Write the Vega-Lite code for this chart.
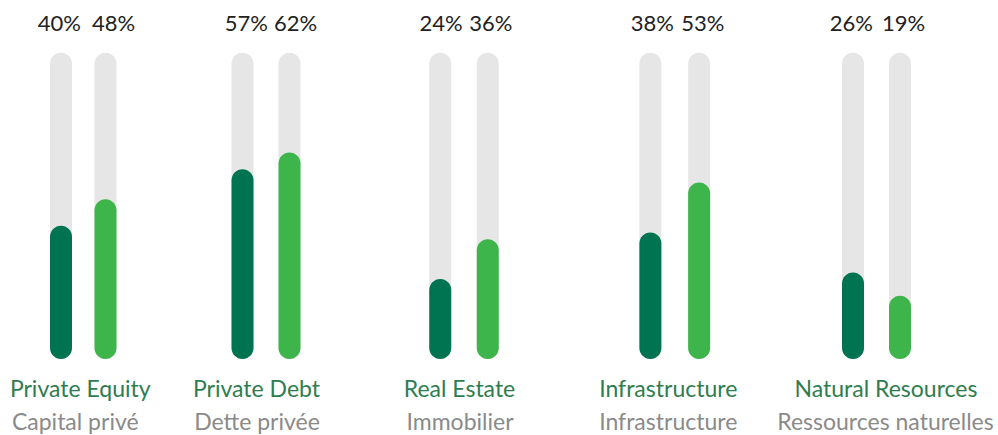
{
  "$schema": "https://vega.github.io/schema/vega-lite/v6.json",
  "padding": {"left": 4, "right": 0, "top": 0, "bottom": 0},
  "background": "white",
  "bounds": "flush",
  "spacing": 0,
  "config": {"view": {"stroke": null}, "font": "Lato", "concat": {"spacing": 0}},
  "datasets": {
    "bars": [
      {"category": "Private Equity", "series": "Series 1", "value": 0.40},
      {"category": "Private Equity", "series": "Series 2", "value": 0.48},
      {"category": "Private Debt", "series": "Series 1", "value": 0.57},
      {"category": "Private Debt", "series": "Series 2", "value": 0.62},
      {"category": "Real Estate", "series": "Series 1", "value": 0.24},
      {"category": "Real Estate", "series": "Series 2", "value": 0.36},
      {"category": "Infrastructure", "series": "Series 1", "value": 0.38},
      {"category": "Infrastructure", "series": "Series 2", "value": 0.53},
      {"category": "Natural Resources", "series": "Series 1", "value": 0.26},
      {"category": "Natural Resources", "series": "Series 2", "value": 0.19}
    ],
    "groups": [
      {"category": "Private Equity", "fr": "Capital privé"},
      {"category": "Private Debt", "fr": "Dette privée"},
      {"category": "Real Estate", "fr": "Immobilier"},
      {"category": "Infrastructure", "fr": "Infrastructure"},
      {"category": "Natural Resources", "fr": "Ressources naturelles"}
    ]
  },
  "hconcat": [
    {
      "width": 152,
      "height": 435,
      "encoding": {
        "x": {"field": "series", "type": "nominal", "axis": null, "scale": {"domain": ["Series 1", "Series 2"], "range": [34.75, 123.75], "paddingInner": 0, "paddingOuter": 0}}
      },
      "layer": [
        {
          "data": {"name": "bars"},
          "transform": [{"filter": "datum.category === 'Private Equity'"}],
          "mark": {"type": "bar", "width": 22, "cornerRadius": 11, "color": "#E6E6E6"},
          "encoding": {
            "y": {"datum": 0.92, "type": "quantitative", "axis": null, "scale": {"domain": [-0.228, 1.078], "nice": false, "zero": false}},
            "y2": {"datum": 0}
          }
        },
        {
          "data": {"name": "bars"},
          "transform": [{"filter": "datum.category === 'Private Equity'"}],
          "mark": {"type": "bar", "width": 22, "cornerRadius": 11},
          "encoding": {
            "y": {"field": "value", "type": "quantitative"},
            "y2": {"datum": 0},
            "color": {"field": "series", "type": "nominal", "legend": null, "scale": {"domain": ["Series 1", "Series 2"], "range": ["#007350", "#3EB54B"]}}
          }
        },
        {
          "data": {"name": "bars"},
          "transform": [{"filter": "datum.category === 'Private Equity' && datum.series === 'Series 1'"}],
          "mark": {"type": "text", "align": "right", "baseline": "alphabetic", "dx": 20, "fontSize": 22, "color": "#222222"},
          "encoding": {"y": {"datum": 0.985, "type": "quantitative"}, "text": {"field": "value", "type": "quantitative", "format": ".0%"}}
        },
        {
          "data": {"name": "bars"},
          "transform": [{"filter": "datum.category === 'Private Equity' && datum.series === 'Series 2'"}],
          "mark": {"type": "text", "align": "left", "baseline": "alphabetic", "dx": -13.5, "fontSize": 22, "color": "#222222"},
          "encoding": {"y": {"datum": 0.985, "type": "quantitative"}, "text": {"field": "value", "type": "quantitative", "format": ".0%"}}
        },
        {
          "data": {"name": "groups"},
          "transform": [{"filter": "datum.category === 'Private Equity'"}],
          "mark": {"type": "text", "align": "center", "baseline": "alphabetic", "dx": -3, "fontSize": 23, "color": "#2E7D4F"},
          "encoding": {"x": {"datum": "Series 2", "bandPosition": 0}, "y": {"datum": -0.114, "type": "quantitative"}, "text": {"field": "category"}}
        },
        {
          "data": {"name": "groups"},
          "transform": [{"filter": "datum.category === 'Private Equity'"}],
          "mark": {"type": "text", "align": "center", "baseline": "alphabetic", "dx": -8, "fontSize": 23, "color": "#8A8A8A"},
          "encoding": {"x": {"datum": "Series 2", "bandPosition": 0}, "y": {"datum": -0.213, "type": "quantitative"}, "text": {"field": "fr"}}
        }
      ]
    },
    {
      "width": 200,
      "height": 435,
      "encoding": {
        "x": {"field": "series", "type": "nominal", "axis": null, "scale": {"domain": ["Series 1", "Series 2"], "range": [63, 157], "paddingInner": 0, "paddingOuter": 0}}
      },
      "layer": [
        {
          "data": {"name": "bars"},
          "transform": [{"filter": "datum.category === 'Private Debt'"}],
          "mark": {"type": "bar", "width": 22, "cornerRadius": 11, "color": "#E6E6E6"},
          "encoding": {
            "y": {"datum": 0.92, "type": "quantitative", "axis": null, "scale": {"domain": [-0.228, 1.078], "nice": false, "zero": false}},
            "y2": {"datum": 0}
          }
        },
        {
          "data": {"name": "bars"},
          "transform": [{"filter": "datum.category === 'Private Debt'"}],
          "mark": {"type": "bar", "width": 22, "cornerRadius": 11},
          "encoding": {
            "y": {"field": "value", "type": "quantitative"},
            "y2": {"datum": 0},
            "color": {"field": "series", "type": "nominal", "legend": null, "scale": {"domain": ["Series 1", "Series 2"], "range": ["#007350", "#3EB54B"]}}
          }
        },
        {
          "data": {"name": "bars"},
          "transform": [{"filter": "datum.category === 'Private Debt' && datum.series === 'Series 1'"}],
          "mark": {"type": "text", "align": "right", "baseline": "alphabetic", "dx": 25.5, "fontSize": 22, "color": "#222222"},
          "encoding": {"y": {"datum": 0.985, "type": "quantitative"}, "text": {"field": "value", "type": "quantitative", "format": ".0%"}}
        },
        {
          "data": {"name": "bars"},
          "transform": [{"filter": "datum.category === 'Private Debt' && datum.series === 'Series 2'"}],
          "mark": {"type": "text", "align": "left", "baseline": "alphabetic", "dx": -15.5, "fontSize": 22, "color": "#222222"},
          "encoding": {"y": {"datum": 0.985, "type": "quantitative"}, "text": {"field": "value", "type": "quantitative", "format": ".0%"}}
        },
        {
          "data": {"name": "groups"},
          "transform": [{"filter": "datum.category === 'Private Debt'"}],
          "mark": {"type": "text", "align": "center", "baseline": "alphabetic", "dx": -9.5, "fontSize": 23, "color": "#2E7D4F"},
          "encoding": {"x": {"datum": "Series 2", "bandPosition": 0}, "y": {"datum": -0.114, "type": "quantitative"}, "text": {"field": "category"}}
        },
        {
          "data": {"name": "groups"},
          "transform": [{"filter": "datum.category === 'Private Debt'"}],
          "mark": {"type": "text", "align": "center", "baseline": "alphabetic", "dx": -9, "fontSize": 23, "color": "#8A8A8A"},
          "encoding": {"x": {"datum": "Series 2", "bandPosition": 0}, "y": {"datum": -0.213, "type": "quantitative"}, "text": {"field": "fr"}}
        }
      ]
    },
    {
      "width": 206,
      "height": 435,
      "encoding": {
        "x": {"field": "series", "type": "nominal", "axis": null, "scale": {"domain": ["Series 1", "Series 2"], "range": [60.5, 155.5], "paddingInner": 0, "paddingOuter": 0}}
      },
      "layer": [
        {
          "data": {"name": "bars"},
          "transform": [{"filter": "datum.category === 'Real Estate'"}],
          "mark": {"type": "bar", "width": 22, "cornerRadius": 11, "color": "#E6E6E6"},
          "encoding": {
            "y": {"datum": 0.92, "type": "quantitative", "axis": null, "scale": {"domain": [-0.228, 1.078], "nice": false, "zero": false}},
            "y2": {"datum": 0}
          }
        },
        {
          "data": {"name": "bars"},
          "transform": [{"filter": "datum.category === 'Real Estate'"}],
          "mark": {"type": "bar", "width": 22, "cornerRadius": 11},
          "encoding": {
            "y": {"field": "value", "type": "quantitative"},
            "y2": {"datum": 0},
            "color": {"field": "series", "type": "nominal", "legend": null, "scale": {"domain": ["Series 1", "Series 2"], "range": ["#007350", "#3EB54B"]}}
          }
        },
        {
          "data": {"name": "bars"},
          "transform": [{"filter": "datum.category === 'Real Estate' && datum.series === 'Series 1'"}],
          "mark": {"type": "text", "align": "right", "baseline": "alphabetic", "dx": 22.5, "fontSize": 22, "color": "#222222"},
          "encoding": {"y": {"datum": 0.985, "type": "quantitative"}, "text": {"field": "value", "type": "quantitative", "format": ".0%"}}
        },
        {
          "data": {"name": "bars"},
          "transform": [{"filter": "datum.category === 'Real Estate' && datum.series === 'Series 2'"}],
          "mark": {"type": "text", "align": "left", "baseline": "alphabetic", "dx": -18.5, "fontSize": 22, "color": "#222222"},
          "encoding": {"y": {"datum": 0.985, "type": "quantitative"}, "text": {"field": "value", "type": "quantitative", "format": ".0%"}}
        },
        {
          "data": {"name": "groups"},
          "transform": [{"filter": "datum.category === 'Real Estate'"}],
          "mark": {"type": "text", "align": "center", "baseline": "alphabetic", "dx": -4.5, "fontSize": 23, "color": "#2E7D4F"},
          "encoding": {"x": {"datum": "Series 2", "bandPosition": 0}, "y": {"datum": -0.114, "type": "quantitative"}, "text": {"field": "category"}}
        },
        {
          "data": {"name": "groups"},
          "transform": [{"filter": "datum.category === 'Real Estate'"}],
          "mark": {"type": "text", "align": "center", "baseline": "alphabetic", "dx": -4, "fontSize": 23, "color": "#8A8A8A"},
          "encoding": {"x": {"datum": "Series 2", "bandPosition": 0}, "y": {"datum": -0.213, "type": "quantitative"}, "text": {"field": "fr"}}
        }
      ]
    },
    {
      "width": 212,
      "height": 435,
      "encoding": {
        "x": {"field": "series", "type": "nominal", "axis": null, "scale": {"domain": ["Series 1", "Series 2"], "range": [64, 161.5], "paddingInner": 0, "paddingOuter": 0}}
      },
      "layer": [
        {
          "data": {"name": "bars"},
          "transform": [{"filter": "datum.category === 'Infrastructure'"}],
          "mark": {"type": "bar", "width": 22, "cornerRadius": 11, "color": "#E6E6E6"},
          "encoding": {
            "y": {"datum": 0.92, "type": "quantitative", "axis": null, "scale": {"domain": [-0.228, 1.078], "nice": false, "zero": false}},
            "y2": {"datum": 0}
          }
        },
        {
          "data": {"name": "bars"},
          "transform": [{"filter": "datum.category === 'Infrastructure'"}],
          "mark": {"type": "bar", "width": 22, "cornerRadius": 11},
          "encoding": {
            "y": {"field": "value", "type": "quantitative"},
            "y2": {"datum": 0},
            "color": {"field": "series", "type": "nominal", "legend": null, "scale": {"domain": ["Series 1", "Series 2"], "range": ["#007350", "#3EB54B"]}}
          }
        },
        {
          "data": {"name": "bars"},
          "transform": [{"filter": "datum.category === 'Infrastructure' && datum.series === 'Series 1'"}],
          "mark": {"type": "text", "align": "right", "baseline": "alphabetic", "dx": 23.5, "fontSize": 22, "color": "#222222"},
          "encoding": {"y": {"datum": 0.985, "type": "quantitative"}, "text": {"field": "value", "type": "quantitative", "format": ".0%"}}
        },
        {
          "data": {"name": "bars"},
          "transform": [{"filter": "datum.category === 'Infrastructure' && datum.series === 'Series 2'"}],
          "mark": {"type": "text", "align": "left", "baseline": "alphabetic", "dx": -18, "fontSize": 22, "color": "#222222"},
          "encoding": {"y": {"datum": 0.985, "type": "quantitative"}, "text": {"field": "value", "type": "quantitative", "format": ".0%"}}
        },
        {
          "data": {"name": "groups"},
          "transform": [{"filter": "datum.category === 'Infrastructure'"}],
          "mark": {"type": "text", "align": "center", "baseline": "alphabetic", "dx": -6.5, "fontSize": 23, "color": "#2E7D4F"},
          "encoding": {"x": {"datum": "Series 2", "bandPosition": 0}, "y": {"datum": -0.114, "type": "quantitative"}, "text": {"field": "category"}}
        },
        {
          "data": {"name": "groups"},
          "transform": [{"filter": "datum.category === 'Infrastructure'"}],
          "mark": {"type": "text", "align": "center", "baseline": "alphabetic", "dx": -6.5, "fontSize": 23, "color": "#8A8A8A"},
          "encoding": {"x": {"datum": "Series 2", "bandPosition": 0}, "y": {"datum": -0.213, "type": "quantitative"}, "text": {"field": "fr"}}
        }
      ]
    },
    {
      "width": 224,
      "height": 435,
      "encoding": {
        "x": {"field": "series", "type": "nominal", "axis": null, "scale": {"domain": ["Series 1", "Series 2"], "range": [55.5, 149.5], "paddingInner": 0, "paddingOuter": 0}}
      },
      "layer": [
        {
          "data": {"name": "bars"},
          "transform": [{"filter": "datum.category === 'Natural Resources'"}],
          "mark": {"type": "bar", "width": 22, "cornerRadius": 11, "color": "#E6E6E6"},
          "encoding": {
            "y": {"datum": 0.92, "type": "quantitative", "axis": null, "scale": {"domain": [-0.228, 1.078], "nice": false, "zero": false}},
            "y2": {"datum": 0}
          }
        },
        {
          "data": {"name": "bars"},
          "transform": [{"filter": "datum.category === 'Natural Resources'"}],
          "mark": {"type": "bar", "width": 22, "cornerRadius": 11},
          "encoding": {
            "y": {"field": "value", "type": "quantitative"},
            "y2": {"datum": 0},
            "color": {"field": "series", "type": "nominal", "legend": null, "scale": {"domain": ["Series 1", "Series 2"], "range": ["#007350", "#3EB54B"]}}
          }
        },
        {
          "data": {"name": "bars"},
          "transform": [{"filter": "datum.category === 'Natural Resources' && datum.series === 'Series 1'"}],
          "mark": {"type": "text", "align": "right", "baseline": "alphabetic", "dx": 20, "fontSize": 22, "color": "#222222"},
          "encoding": {"y": {"datum": 0.985, "type": "quantitative"}, "text": {"field": "value", "type": "quantitative", "format": ".0%"}}
        },
        {
          "data": {"name": "bars"},
          "transform": [{"filter": "datum.category === 'Natural Resources' && datum.series === 'Series 2'"}],
          "mark": {"type": "text", "align": "left", "baseline": "alphabetic", "dx": -18, "fontSize": 22, "color": "#222222"},
          "encoding": {"y": {"datum": 0.985, "type": "quantitative"}, "text": {"field": "value", "type": "quantitative", "format": ".0%"}}
        },
        {
          "data": {"name": "groups"},
          "transform": [{"filter": "datum.category === 'Natural Resources'"}],
          "mark": {"type": "text", "align": "center", "baseline": "alphabetic", "dx": 9.5, "fontSize": 23, "color": "#2E7D4F"},
          "encoding": {"x": {"datum": "Series 2", "bandPosition": 0}, "y": {"datum": -0.114, "type": "quantitative"}, "text": {"field": "category"}}
        },
        {
          "data": {"name": "groups"},
          "transform": [{"filter": "datum.category === 'Natural Resources'"}],
          "mark": {"type": "text", "align": "center", "baseline": "alphabetic", "dx": 9, "fontSize": 23, "color": "#8A8A8A"},
          "encoding": {"x": {"datum": "Series 2", "bandPosition": 0}, "y": {"datum": -0.213, "type": "quantitative"}, "text": {"field": "fr"}}
        }
      ]
    }
  ]
}
